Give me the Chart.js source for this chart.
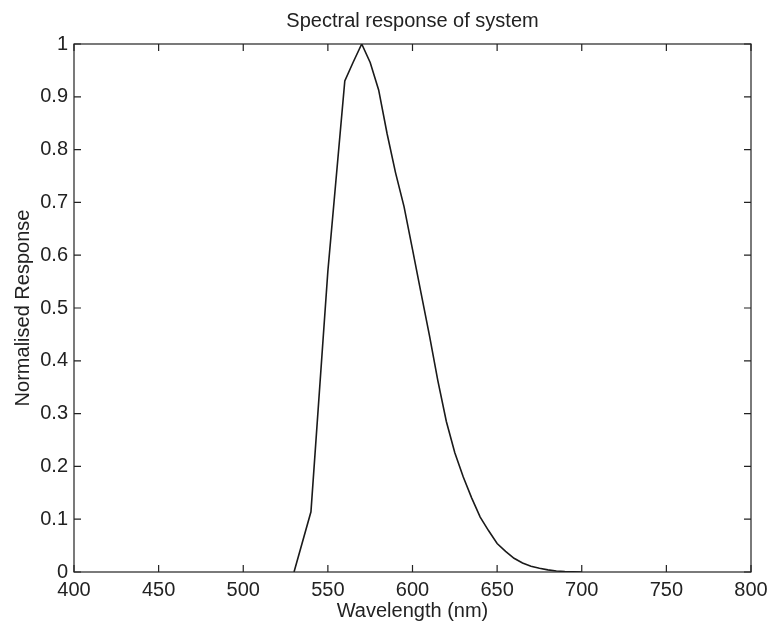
<!DOCTYPE html>
<html>
<head>
<meta charset="utf-8">
<script src="https://cdn.jsdelivr.net/npm/chart.js@4"></script>
<style>
html,body{margin:0;padding:0;background:#fff;}
#wrap{width:772px;height:630px;}
</style>
</head>
<body>
<div id="wrap"><canvas id="c" width="772" height="630"></canvas></div>
<script>
const chartTitle = "Spectral response of system";
const xTitle = "Wavelength (nm)";
const yTitle = "Normalised Response";
const wavelengths = [530, 540, 550, 560, 565, 570, 575, 580, 585, 590, 595, 600, 605, 610, 615, 620, 625, 630, 635, 640, 645, 650, 655, 660, 665, 670, 675, 680, 685, 690, 695, 700];
const response    = [0, 0.114, 0.57, 0.93, 0.966, 1.0, 0.965, 0.913, 0.83, 0.756, 0.692, 0.611, 0.529, 0.448, 0.362, 0.285, 0.226, 0.180, 0.140, 0.104, 0.078, 0.054, 0.039, 0.026, 0.017, 0.011, 0.007, 0.004, 0.002, 0.001, 0.0005, 0];
const xTicks = [400, 450, 500, 550, 600, 650, 700, 750, 800];
const yTicks = [0, 0.1, 0.2, 0.3, 0.4, 0.5, 0.6, 0.7, 0.8, 0.9, 1];

const FONT = "'Liberation Sans', Arial, Helvetica, sans-serif";
const TXT = '#222';

const boxPlugin = {
  id: 'matlabBox',
  afterDraw(chart) {
    const {ctx, chartArea: a, scales} = chart;
    ctx.save();
    ctx.strokeStyle = '#222';
    ctx.lineWidth = 1.2;
    ctx.strokeRect(a.left, a.top, a.right - a.left, a.bottom - a.top);
    const L = 7;
    ctx.beginPath();
    xTicks.forEach(v => {
      const px = scales.x.getPixelForValue(v);
      ctx.moveTo(px, a.bottom); ctx.lineTo(px, a.bottom - L);
      ctx.moveTo(px, a.top); ctx.lineTo(px, a.top + L);
    });
    yTicks.forEach(v => {
      const py = scales.y.getPixelForValue(v);
      ctx.moveTo(a.left, py); ctx.lineTo(a.left + L, py);
      ctx.moveTo(a.right, py); ctx.lineTo(a.right - L, py);
    });
    ctx.stroke();
    ctx.restore();
  }
};

new Chart(document.getElementById('c'), {
  type: 'line',
  data: {
    datasets: [{
      data: wavelengths.map((w, i) => ({x: w, y: response[i]})),
      borderColor: '#1a1a1a',
      borderWidth: 1.6,
      pointRadius: 0,
      tension: 0,
      fill: false
    }]
  },
  options: {
    responsive: false,
    animation: false,
    layout: {padding: {left: 0, right: 21, top: 0, bottom: 0}},
    plugins: {
      legend: {display: false},
      tooltip: {enabled: false},
      title: {
        display: true,
        text: chartTitle,
        fullSize: false,
        color: TXT,
        font: {family: FONT, size: 20, weight: 'normal', lineHeight: 1.2},
        padding: {top: 9, bottom: 11}
      }
    },
    scales: {
      x: {
        type: 'linear',
        min: 400, max: 800,
        afterBuildTicks: s => { s.ticks = xTicks.map(v => ({value: v})); },
        afterFit: s => { s.height = 58; s.paddingLeft = 0; s.paddingRight = 0; },
        grid: {display: false, drawTicks: false},
        border: {display: false},
        ticks: {color: TXT, font: {family: FONT, size: 20}, padding: 6, maxRotation: 0, autoSkip: false,
                callback: v => String(v)},
        title: {display: true, text: xTitle, color: TXT, font: {family: FONT, size: 20}, padding: {top: 0, bottom: 7}}
      },
      y: {
        type: 'linear',
        min: 0, max: 1,
        afterBuildTicks: s => { s.ticks = yTicks.map(v => ({value: v})); },
        afterFit: s => { s.width = 74; },
        grid: {display: false, drawTicks: false},
        border: {display: false},
        ticks: {color: TXT, font: {family: FONT, size: 20}, padding: 6, autoSkip: false,
                callback: v => String(v)},
        title: {display: true, text: yTitle, color: TXT, font: {family: FONT, size: 20}, padding: {top: 11, bottom: 0}}
      }
    }
  },
  plugins: [boxPlugin]
});
</script>
</body>
</html>
